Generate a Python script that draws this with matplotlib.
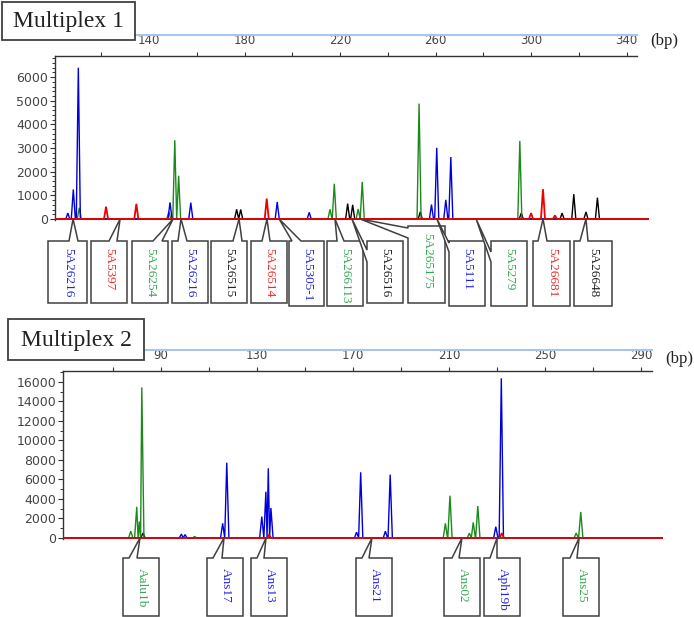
import matplotlib
matplotlib.use('Agg')
import matplotlib.pyplot as plt
from matplotlib.patches import Polygon, Rectangle
from matplotlib.lines import Line2D

W, H = 694, 617

# ---- Multiplex 1 peaks (bp, rfu) ----
m1_blue_bp = [106, 108.3, 110.4, 148.8, 157.5, 193.7, 207.1, 258.3, 260.5, 264.3, 266.4]
m1_blue_h = [250, 1250, 6400, 700, 690, 720, 280, 610, 3010, 810, 2620]
m1_green_bp = [110.8, 148.3, 150.8, 152.4, 215.8, 217.6, 227.6, 229.3, 253.1, 295.3]
m1_green_h = [470, 300, 3330, 1830, 410, 1490, 420, 1570, 4880, 3300]
m1_black_bp = [176.7, 178.4, 223.2, 225.3, 253.6, 295.9, 313, 317.9, 323, 327.8]
m1_black_h = [410, 400, 650, 600, 300, 250, 250, 1050, 300, 900]
m1_red_bp = [122, 134.7, 189.3, 300, 305, 310]
m1_red_h = [520, 640, 860, 250, 1260, 150]

m1_labels = ['5A26216', '5A5397', '5A26254', '5A26216', '5A26515', '5A26514', '5A5305-1',
             '5A266113', '5A26516', '5A265175', '5A5111', '5A5279', '5A26681', '5A26648']
m1_label_col = ['blue', 'red', 'green', 'blue', 'black', 'red', 'blue',
                'green', 'black', 'green', 'blue', 'green', 'red', 'black']
m1_label_bp = [108.2, 127.9, 150.1, 153.4, 177.7, 189.4, 194.5,
               217.9, 225.0, 228.4, 260.6, 277.0, 305.0, 323.0]

# ---- Multiplex 2 peaks ----
m2_green_bp = [77.4, 79.9, 81.0, 82.0, 104, 208.5, 210.4, 218.5, 220.1, 222.0, 263.0, 264.9]
m2_green_h = [700, 3200, 1700, 15450, 150, 1500, 4340, 500, 1600, 3280, 500, 2670]
m2_blue_bp = [98.5, 100, 115.7, 117.4, 132, 133.7, 134.7, 135.8, 171.5, 173.2, 183.5, 185.5, 229.5, 231.8]
m2_blue_h = [400, 350, 1500, 7720, 2200, 4750, 7150, 3080, 600, 6740, 700, 6500, 1160, 16380]
m2_black_bp = [82.5]
m2_black_h = [500]
m2_red_bp = [135, 232]
m2_red_h = [300, 500]

m2_labels = ['Aalu1b', 'Ans17', 'Ans13', 'Ans21', 'Ans02', 'Aph19b', 'Ans25']
m2_label_col = ['green', 'blue', 'blue', 'blue', 'green', 'blue', 'green']
m2_label_bp = [81.25, 116.25, 133.75, 177.9, 215.4, 230.0, 264.2]

trace_col = {'blue': '#0000dd', 'green': '#1b8a1b', 'red': '#ee0000', 'black': '#000000'}
text_col = {'blue': '#2424e0', 'green': '#35a855', 'red': '#ee2a2a', 'black': '#222222'}

# box layout in pixels: x0, x1, top, bottom, stem side, stem base a, stem base b
m1_boxes = [
    (48, 87, 241, 303, 'top', 69, 78),
    (91, 127, 241, 303, 'top', 109, 117),
    (132, 168, 241, 303, 'top', 153, 162),
    (172, 208, 241, 303, 'top', 178, 187),
    (211, 247, 241, 303, 'top', 233, 242),
    (251, 287, 241, 303, 'top', 262, 270),
    (289, 324, 241, 306, 'top', 292, 301),
    (327, 363, 241, 306, 'top', 337, 344),
    (367, 403, 241, 303, 'left', 250, 262),
    (408, 445, 226, 303, 'left', 228, 238),
    (449, 485, 241, 306, 'left', 243, 252),
    (491, 527, 241, 306, 'left', 252, 262),
    (533, 570, 241, 306, 'top', 538, 547),
    (574, 612, 241, 306, 'top', 580, 588),
]
m2_boxes = [
    (123, 159, 558, 616, 'top', 129, 137),
    (207, 243, 558, 616, 'top', 213, 222),
    (251, 287, 558, 616, 'top', 257, 264),
    (356, 392, 558, 616, 'top', 362, 369),
    (444, 480, 558, 616, 'top', 452, 459),
    (484, 520, 558, 616, 'top', 490, 497),
    (563, 599, 558, 616, 'top', 570, 577),
]

fig = plt.figure(figsize=(W / 100, H / 100), dpi=100)


def px_axes(x0, y0, x1, y1):
    return fig.add_axes([x0 / W, 1 - y1 / H, (x1 - x0) / W, (y1 - y0) / H])


def trace(bps, hs, lo, hi, w):
    xs, ys = [lo], [0]
    prev = None
    for b, h in sorted(zip(bps, hs)):
        if prev is not None and b - w < xs[-1]:
            xs[-1] = (prev + b) / 2
        else:
            xs.append(b - w)
            ys.append(0)
        xs += [b, b + w]
        ys += [h, 0]
        prev = b
    xs.append(hi)
    ys.append(0)
    return xs, ys


def setup(ax, xlim, ylim, spine_end, major, minor, yt, ymin):
    ax.set_xlim(*xlim)
    ax.set_ylim(*ylim)
    ax.patch.set_alpha(0)
    for s in ['right', 'bottom']:
        ax.spines[s].set_visible(False)
    ax.spines['top'].set_bounds(xlim[0], spine_end)
    ax.spines['left'].set_bounds(ylim[0] * 0.5, ylim[1])
    for s in ['top', 'left']:
        ax.spines[s].set_color('#333333')
        ax.spines[s].set_linewidth(1.0)
    ax.xaxis.tick_top()
    ax.set_xticks(major)
    ax.set_xticks(minor, minor=True)
    ax.tick_params(axis='x', which='both', direction='out', length=3, width=0.8,
                   colors='#333333', labelcolor='#444444', labelsize=8.5, pad=3.5)
    ax.set_yticks(yt)
    ax.set_yticks(ymin, minor=True)
    ax.tick_params(axis='y', which='major', direction='out', length=3.5, width=0.8,
                   colors='#333333', labelcolor='#444444', labelsize=9, pad=1.5)
    ax.tick_params(axis='y', which='minor', direction='out', length=2, width=0.7, colors='#333333')


def draw_channels(ax, chans, xlim, w):
    for bps, hs, c in chans:
        xs, ys = trace(bps, hs, xlim[0], xlim[1], w)
        ax.plot(xs, ys, color=trace_col[c], lw=1.3 if c == 'red' else 1.0,
                solid_joinstyle='miter', zorder=4 if c == 'red' else 3)


# ---- top panel ----
ax1 = px_axes(55, 56, 649, 222)
xl1 = (100.63, 349.4)
setup(ax1, xl1, (-128, 6894), 344.4, range(140, 341, 40), range(120, 341, 40),
      range(0, 6001, 1000), range(0, 6801, 200))
draw_channels(ax1, [(m1_black_bp, m1_black_h, 'black'), (m1_green_bp, m1_green_h, 'green'),
                    (m1_blue_bp, m1_blue_h, 'blue'), (m1_red_bp, m1_red_h, 'red')], xl1, 0.85)

# ---- bottom panel ----
ax2 = px_axes(63, 371, 663, 541)
xl2 = (49.17, 299.17)
setup(ax2, xl2, (-308, 17128), 294.6, range(90, 291, 40), range(70, 291, 40),
      range(0, 16001, 2000), range(0, 17001, 1000))
draw_channels(ax2, [(m2_black_bp, m2_black_h, 'black'), (m2_green_bp, m2_green_h, 'green'),
                    (m2_blue_bp, m2_blue_h, 'blue'), (m2_red_bp, m2_red_h, 'red')], xl2, 0.9)

# ---- overlay in pixel coordinates ----
ov = fig.add_axes([0, 0, 1, 1], zorder=10)
ov.set_xlim(0, W)
ov.set_ylim(H, 0)
ov.axis('off')
ov.patch.set_alpha(0)

serif = 'Liberation Serif'

for (x0, y0, x1, y1, title), (lx0, lx1, ly), bpx in [
        ((2, 2, 135, 40, 'Multiplex 1'), (135, 637, 35), (650, 41)),
        ((8, 319, 144, 360, 'Multiplex 2'), (144, 652, 350), (665, 359))]:
    ov.add_line(Line2D([lx0, lx1], [ly, ly], color='#a6c6ee', lw=1.5))
    ov.add_patch(Rectangle((x0, y0), x1 - x0, y1 - y0, facecolor='white',
                           edgecolor='#404040', lw=1.3, zorder=5))
    ov.text((x0 + x1) / 2, (y0 + y1) / 2 + 1, title, ha='center', va='center',
            fontsize=17, family=serif, color='#222222', zorder=6)
    ov.text(bpx[0], bpx[1], '(bp)', ha='left', va='center', fontsize=12,
            family=serif, color='#222222')


def apex_px(ax, bp):
    dx, dy = ax.transData.transform((bp, 0))
    return dx, H - dy


def callouts(ax, boxes, labels, cols, bps, txt_off):
    for (x0, x1, yt, yb, side, a, b), lab, c, bp in zip(boxes, labels, cols, bps):
        ap = apex_px(ax, bp)
        if side == 'top':
            pts = [(x0, yt), (a, yt), ap, (b, yt), (x1, yt), (x1, yb), (x0, yb)]
        else:
            pts = [(x0, yt), (x1, yt), (x1, yb), (x0, yb), (x0, b), ap, (x0, a)]
        ov.add_patch(Polygon(pts, closed=True, facecolor='white', edgecolor='#404040',
                             lw=1.1, joinstyle='miter'))
        ov.text((x0 + x1) / 2 + 0.5, yt + txt_off, lab, rotation=270, ha='center', va='top',
                fontsize=9.5, family=serif, color=text_col[c])


callouts(ax1, m1_boxes, m1_labels, m1_label_col, m1_label_bp, 7)
callouts(ax2, m2_boxes, m2_labels, m2_label_col, m2_label_bp, 10)

fig.savefig('out.png', dpi=100)
